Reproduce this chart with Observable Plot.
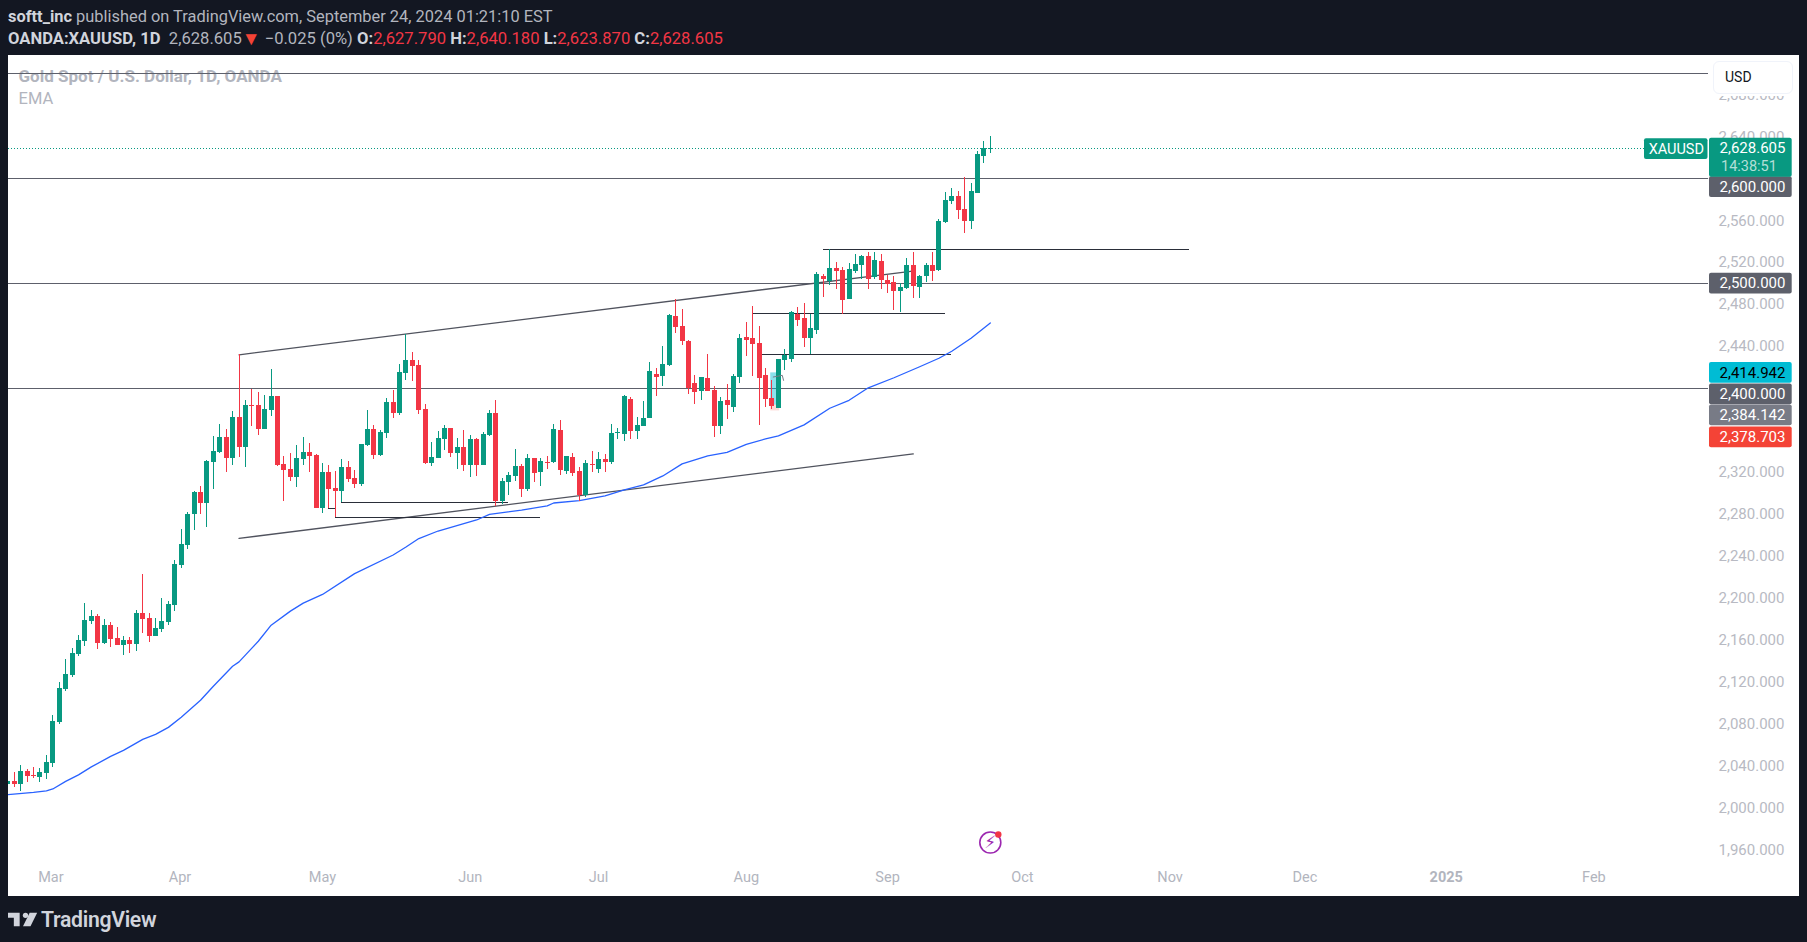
<!DOCTYPE html>
<html><head><meta charset="utf-8">
<script src="https://cdn.jsdelivr.net/npm/d3@7"></script>
<script src="https://cdn.jsdelivr.net/npm/@observablehq/plot@0.6"></script>
<style>
html,body{margin:0;padding:0;background:#131722;width:1807px;height:942px;overflow:hidden}
body{position:relative;font-family:Roboto,sans-serif;color:#b2b5be}
#h1,#h2{position:absolute;left:8px;white-space:nowrap;font-size:16.4px;line-height:20px}
#h1{top:7px}#h2{top:29px;font-size:16.6px}
b{font-weight:700;color:#d1d4dc}.r{color:#f23645}
.tri{color:#f44336;font-size:19px;line-height:0;vertical-align:-1px}
#chart{position:absolute;left:8px;top:55px;background:#fff;width:1791px;height:841px}
#chart svg{display:block}
#usd{position:absolute;left:1713px;top:61px;width:78px;height:31px;background:#fff;border:1px solid #f0f3fa;border-radius:6px;box-shadow:0 2px 0 #fff;color:#131722;font-size:14px;line-height:31px;text-indent:11px}
#logo{position:absolute;left:8px;top:907px;color:#d1d4dc;font-size:21.2px;font-weight:600;display:flex;align-items:center;gap:3px;letter-spacing:-.3px}
</style></head><body>
<div id="h1"><b>softt_inc</b> published on TradingView.com, September 24, 2024 01:21:10 EST</div>
<div id="h2"><b>OANDA:XAUUSD, 1D</b>&nbsp; 2,628.605<span class="tri">▼</span> −0.025 (0%) <b>O:</b><span class="r">2,627.790</span> <b>H:</b><span class="r">2,640.180</span> <b>L:</b><span class="r">2,623.870</span> <b>C:</b><span class="r">2,628.605</span></div>
<div id="chart"></div>
<div id="usd">USD</div>
<div id="logo"><svg width="30" height="17" viewBox="0 0 36 20"><path fill="#d1d4dc" d="M14 2H0v6h7v10h7zM35 2h-9l-8 16h9z"/><circle cx="21" cy="5" r="3.2" fill="#d1d4dc"/></svg><span>TradingView</span></div>
<script>
const opens=[2023.0,2025.5,2022.9,2035.0,2031.2,2029.3,2033.1,2043.0,2081.8,2113.3,
2126.7,2146.7,2159.2,2178.3,2183.0,2157.2,2174.4,2162.0,2155.3,2160.1,
2156.3,2185.9,2181.1,2163.9,2170.6,2177.3,2193.5,2231.7,2250.8,2279.5,
2300.5,2290.0,2329.1,2338.6,2353.0,2332.9,2372.1,2343.4,2383.5,2383.5,
2360.6,2378.8,2392.1,2327.2,2322.4,2314.8,2332.0,2338.6,2335.8,2285.2,
2319.5,2304.3,2301.4,2324.3,2313.8,2308.1,2345.3,2360.6,2335.8,2356.8,
2386.4,2375.9,2414.1,2426.5,2421.7,2379.7,2328.1,2332.9,2351.1,2361.6,
2337.7,2343.4,2326.2,2351.1,2326.2,2354.9,2375.9,2292.8,2310.0,2315.7,
2325.3,2303.3,2332.9,2319.5,2329.1,2329.1,2359.7,2320.5,2333.9,2320.5,
2297.6,2327.2,2322.4,2332.0,2329.1,2356.8,2355.8,2389.2,2358.7,2363.5,
2371.1,2413.1,2411.2,2421.7,2468.5,2459.0,2444.6,2404.5,2396.9,2409.3,
2397.9,2363.5,2388.3,2381.6,2410.3,2448.5,2447.5,2442.7,2412.2,2390.2,
2380.7,2426.5,2427.5,2470.4,2466.6,2447.5,2455.1,2506.7,2501.9,2514.3,
2512.4,2484.7,2511.4,2517.2,2525.8,2505.7,2521.0,2502.9,2501.0,2492.4,
2495.2,2517.2,2496.2,2506.7,2517.2,2512.4,2558.2,2578.3,2583.1,2570.7,
2559.2,2585.9,2621.3,2627.79];
const highs=[2025.2,2034.1,2040.7,2036.9,2038.8,2037.6,2050.3,2088.5,2120.0,2142.0,
2152.5,2164.9,2195.4,2188.8,2184.9,2180.2,2177.3,2172.5,2163.9,2163.0,
2188.8,2223.1,2185.9,2181.1,2200.2,2197.3,2236.5,2266.1,2281.4,2301.4,
2306.2,2331.0,2353.9,2365.4,2360.6,2377.8,2432.2,2388.3,2398.8,2395.9,
2393.1,2417.9,2392.1,2334.8,2337.7,2345.3,2353.0,2347.2,2336.7,2328.1,
2326.2,2320.5,2332.0,2330.0,2321.5,2346.9,2378.8,2364.4,2359.7,2390.2,
2397.8,2422.7,2451.3,2434.1,2426.5,2384.5,2348.2,2358.7,2364.4,2361.6,
2352.0,2359.7,2354.9,2352.0,2357.7,2378.8,2388.3,2313.8,2319.5,2341.5,
2327.2,2336.7,2332.9,2332.9,2334.8,2365.4,2369.2,2334.8,2337.7,2324.3,
2331.0,2339.6,2338.6,2336.7,2365.4,2361.6,2393.1,2391.2,2372.0,2387.3,
2424.6,2418.8,2439.9,2470.4,2484.8,2475.2,2445.6,2412.2,2410.3,2432.2,
2401.7,2391.2,2403.6,2413.1,2451.3,2462.8,2478.1,2459.0,2418.9,2407.4,
2428.1,2437.0,2473.3,2477.1,2480.9,2470.4,2510.5,2508.6,2532.5,2520.0,
2515.3,2519.1,2527.7,2526.7,2529.6,2529.6,2527.7,2507.6,2506.7,2500.0,
2523.9,2529.6,2507.6,2519.1,2529.6,2561.1,2586.9,2590.7,2587.8,2601.2,
2595.5,2626.0,2635.6,2640.18];
const lows=[2022.6,2020.1,2016.2,2024.8,2028.6,2024.8,2027.7,2039.2,2079.3,2110.8,
2124.1,2144.2,2153.7,2174.7,2150.9,2155.7,2152.8,2155.3,2145.8,2147.1,
2149.6,2166.2,2157.6,2163.9,2167.7,2173.8,2187.2,2228.9,2247.0,2265.1,
2279.5,2268.0,2303.3,2337.7,2319.5,2326.2,2333.9,2324.3,2363.5,2354.9,
2360.6,2373.0,2325.3,2291.9,2311.0,2305.2,2326.2,2319.5,2285.2,2281.3,
2285.2,2277.2,2291.5,2310.0,2304.3,2307.1,2344.7,2332.0,2334.8,2352.0,
2371.1,2374.0,2407.4,2406.4,2374.9,2327.2,2325.3,2332.9,2340.6,2333.9,
2322.4,2320.5,2314.8,2315.7,2326.2,2353.9,2288.0,2289.0,2297.6,2311.0,
2295.7,2301.4,2310.0,2307.1,2322.4,2328.1,2316.7,2317.6,2315.7,2292.8,
2296.6,2319.5,2318.6,2319.5,2327.2,2351.1,2349.2,2351.1,2351.1,2363.5,
2371.1,2392.1,2401.7,2420.8,2452.3,2440.8,2394.0,2384.5,2388.3,2396.9,
2353.0,2355.8,2370.2,2376.8,2404.5,2430.3,2411.2,2364.4,2381.6,2379.7,
2380.7,2417.0,2424.6,2459.0,2438.9,2432.2,2451.3,2486.6,2498.1,2494.3,
2471.0,2484.7,2509.5,2503.8,2494.3,2503.8,2494.3,2490.5,2474.2,2472.3,
2494.3,2485.7,2485.7,2500.9,2501.9,2511.4,2557.3,2575.4,2561.1,2547.7,
2551.6,2585.9,2614.6,2623.87];
const closes=[2025.0,2022.6,2035.0,2030.2,2030.2,2034.1,2043.6,2082.8,2114.3,2127.6,
2147.7,2160.1,2179.2,2183.0,2157.2,2174.4,2161.1,2155.3,2160.1,2156.3,
2185.9,2180.2,2163.9,2171.6,2178.3,2194.5,2232.7,2251.8,2280.4,2300.5,
2290.0,2330.1,2339.6,2353.0,2332.9,2372.1,2343.4,2383.5,2382.6,2360.6,
2379.7,2392.1,2326.2,2321.5,2314.8,2332.9,2338.6,2334.8,2285.2,2319.5,
2303.3,2301.4,2324.3,2312.9,2308.1,2346.3,2360.6,2335.8,2357.7,2386.4,
2375.9,2415.0,2426.5,2420.8,2378.8,2328.1,2333.9,2352.0,2361.6,2337.7,
2343.4,2326.2,2351.1,2326.2,2355.8,2375.9,2292.8,2311.0,2316.7,2325.3,
2303.3,2332.9,2318.6,2330.0,2328.1,2360.6,2321.5,2334.8,2318.6,2297.6,
2328.1,2326.2,2332.0,2329.1,2356.8,2357.7,2392.1,2358.7,2364.4,2371.1,
2416.0,2410.3,2422.7,2469.5,2458.0,2444.6,2399.8,2395.9,2410.3,2396.9,
2363.5,2387.3,2383.5,2411.2,2447.5,2445.6,2441.8,2409.3,2389.2,2382.6,
2427.5,2431.3,2472.3,2464.7,2447.5,2457.1,2508.6,2503.8,2514.3,2511.4,
2483.8,2513.4,2518.1,2525.8,2503.8,2522.0,2502.9,2499.0,2492.4,2496.2,
2517.2,2497.1,2506.7,2517.2,2511.4,2559.2,2579.3,2583.1,2569.7,2559.2,
2587.8,2623.2,2628.9,2628.605];

const emaBars=[0,4,6,7,9,11,13,16,18,21,23,25,27,30,32,35,36,38,39,41,44,46,49,54,60,62,64,67,73,75,80,84,85,89,93,96,99,102,105,109,112,115,118,120,124,128,131,134,138,142,145,147,150,153];
const emaValues=[2012.8,2015.0,2016.4,2018.3,2025.5,2031.7,2039.3,2049.3,2055.1,2065.6,2070.3,2077.0,2086.6,2102.8,2116.2,2135.3,2139.4,2152.5,2159.1,2174.4,2187.8,2195.4,2203.7,2223.6,2241.3,2248.9,2257.0,2264.2,2274.7,2280.1,2284.2,2288.1,2290.9,2293.1,2297.6,2303.3,2308.1,2316.7,2328.2,2335.8,2339.1,2346.8,2352.0,2354.9,2365.4,2381.2,2388.8,2400.7,2410.3,2420.8,2428.9,2435.6,2448.0,2462.5];

const levels=[2700,2600,2500,2400];
const lastClose=2628.605;
const channel=[{k:"upper",a:36,p:2432.2},{k:"upper",a:140.6,p:2511.8},{k:"lower",a:36,p:2257.2},{k:"lower",a:141,p:2337.7}];
const segStart=[52,51,50,117.5,116,127];
const segEnd=[78,83,51,147,146,184];
const segPrice=[2291.6,2277.3,2285.2,2432.9,2471.1,2532.2];
const arrowBars=[119.2,120.6,120.8];
const arrowPrices=[2411,2412.6,2407.8];

const monthBars=[6.7,26.8,49,72,92,115,137,158,181,202,247];
const monthNames=["Mar","Apr","May","Jun","Jul","Aug","Sep","Oct","Nov","Dec","Feb"];
const yearBar=[224];
const priceTicks=d3.range(1960,2681,40).filter(v=>![2360,2400,2600].includes(v));

const tagLabels=["2,500.000","2,600.000","2,414.942","2,400.000","2,384.142","2,378.703"];
const tagCenters=[2500.0,2592.0,2414.9,2394.5,2374.5,2353.5];
const tagFills=["#5d606b","#5d606b","#00bcd4","#5d606b","#787b86","#f44336"];
const tagText=["#fff","#fff","#000","#fff","#fff","#fff"];
const tagHalf=9.9;

const bars=opens.map((o,i)=>({i,o,h:highs[i],l:lows[i],c:closes[i]}));
const ema=emaBars.map((b,i)=>({b,v:emaValues[i]}));
const segs=segStart.map((s,i)=>({s,e:segEnd[i],p:segPrice[i]}));
const tags=tagLabels.map((t,i)=>({t,v:tagCenters[i],f:tagFills[i],c:tagText[i]}));
const arrow=arrowBars.map((a,i)=>({a,p:arrowPrices[i]}));
const UP="#089981",DN="#f23645",col=d=>d.c>=d.o?UP:DN;
const FONT="Roboto, sans-serif";
const monthName=new Map(monthBars.map((b,i)=>[b,monthNames[i]]));
const tagOpts={insetLeft:1701,insetRight:-84.2,rx:2};
const crisp={shapeRendering:"crispEdges"};

const chart=Plot.plot({
  width:1791,height:841,marginLeft:0,marginRight:91.5,marginTop:0,marginBottom:40,
  style:{background:"transparent",fontFamily:FONT,overflow:"visible"},
  x:{type:"linear",domain:[0.097,264.77],axis:null},
  y:{type:"linear",domain:[1953.9,2717.5],axis:null},
  marks:[
    Plot.axisX({anchor:"bottom",ticks:monthBars,tickSize:0,tickPadding:15,fontSize:14.5,tickFormat:d=>monthName.get(d),fill:"#b2b5be",label:null}),
    Plot.axisX({anchor:"bottom",ticks:yearBar,tickSize:0,tickPadding:15,fontSize:14.5,fontWeight:700,tickFormat:()=>"2025",fill:"#b2b5be",label:null}),
    Plot.axisY({anchor:"right",ticks:priceTicks,tickSize:0,tickPadding:10.5,fontSize:15,tickFormat:d3.format(",.3f"),fill:"#b8bac3",label:null,textAnchor:"start"}),
    Plot.text(["Gold Spot / U.S. Dollar, 1D, OANDA"],{frameAnchor:"top-left",dx:10,dy:14.4,fontSize:17.05,fontWeight:700,fill:"#b2b5be",textAnchor:"start"}),
    Plot.text(["EMA"],{frameAnchor:"top-left",dx:10,dy:36.5,fontSize:16.5,fill:"#b2b5be",textAnchor:"start"}),
    Plot.ruleY(levels,{stroke:"#5d606b",strokeWidth:1,...crisp}),
    Plot.ruleY([lastClose],{stroke:UP,strokeWidth:1,strokeDasharray:"1,2",...crisp}),
    Plot.line(channel,{x:"a",y:"p",z:"k",stroke:"#50535e",strokeWidth:1.3,curve:"linear"}),
    Plot.ruleY(segs,{x1:"s",x2:"e",y:"p",stroke:"#2a2e39",strokeWidth:1,...crisp}),
    Plot.rect([{a:118.8,b:120.2,y1:2384.142,y2:2414.942}],{x1:"a",x2:"b",y1:"y1",y2:"y2",fill:"#00bcd4",fillOpacity:.45}),
    Plot.rect([{a:118.8,b:120.2,y1:2378.703,y2:2384.142}],{x1:"a",x2:"b",y1:"y1",y2:"y2",fill:"#f44336",fillOpacity:.2}),
    Plot.line(ema,{x:"b",y:"v",stroke:"#2962ff",strokeWidth:1.3,curve:"linear",clip:"frame"}),
    Plot.ruleX(bars,{x:"i",y1:"l",y2:"h",stroke:col,strokeWidth:1,clip:"frame",...crisp}),
    Plot.ruleX(bars,{x:"i",y1:"o",y2:"c",stroke:col,strokeWidth:5,clip:"frame",...crisp}),
    Plot.line(arrow,{x:"a",y:"p",stroke:"#787b86",strokeWidth:1,curve:"linear"}),
    Plot.dot([{x:153,y:1967.2}],{x:"x",y:"y",r:10.5,stroke:"#9c27b0",strokeWidth:1.6,fill:"none"}),
    Plot.text([{x:153,y:1967.2}],{x:"x",y:"y",text:()=>"⚡",fontSize:17,fill:"#9c27b0",fontFamily:"DejaVu Sans"}),
    Plot.dot([{x:153,y:1967.2}],{x:"x",y:"y",dx:8,dy:-8,r:3.2,fill:"#f23645"}),
    Plot.rect([{y1:2618.4,y2:2638.2}],{y1:"y1",y2:"y2",fill:UP,insetLeft:1636,insetRight:0,rx:2}),
    Plot.text([2628.3],{y:d=>d,text:()=>"XAUUSD",frameAnchor:"right",dx:-4,fill:"#fff",fontSize:14.5,textAnchor:"end"}),
    Plot.rect(tags,{y1:d=>d.v-tagHalf,y2:d=>d.v+tagHalf,fill:"f",...tagOpts}),
    Plot.text(tags,{y:"v",text:"t",fill:"c",frameAnchor:"right",textAnchor:"start",dx:11.5,fontSize:15}),
    Plot.rect([{y1:2601.5,y2:2638.5}],{y1:"y1",y2:"y2",fill:UP,...tagOpts}),
    Plot.text([2629],{y:d=>d,text:()=>"2,628.605",fill:"#fff",frameAnchor:"right",textAnchor:"start",dx:11.5,fontSize:15}),
    Plot.text([2612],{y:d=>d,text:()=>"14:38:51",fill:"#fff",fillOpacity:.7,frameAnchor:"right",textAnchor:"start",dx:13,fontSize:14.5})
  ]
});
document.getElementById("chart").appendChild(chart);
</script>
</body></html>
